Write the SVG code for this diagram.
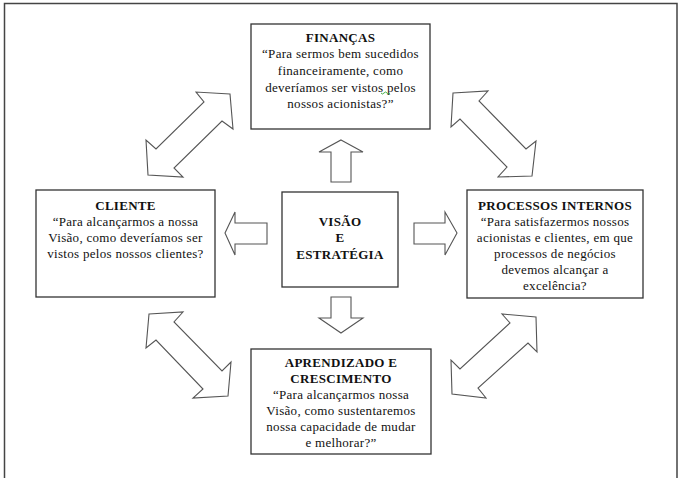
<svg xmlns="http://www.w3.org/2000/svg" width="680" height="478" viewBox="0 0 680 478">
<style>
.box{fill:#fff;stroke:#333;stroke-width:1.3}
.arr{fill:#fff;stroke:#555;stroke-width:1.1;stroke-linejoin:miter}
text{font-family:"Liberation Serif","Times New Roman",serif;font-size:13px;fill:#111;text-anchor:middle;letter-spacing:0.3px}
.t{font-weight:bold}
</style>
<rect width="680" height="478" fill="#fff"/>
<path d="M4.5 480 V3.5 H677 V480" fill="none" stroke="#444" stroke-width="1.5"/>
<g id="connectors">
<polygon class="arr" points="341,140 363,152 351,152 351,182 331,182 331,152 319,152"/>
<polygon class="arr" points="341,333 363,318 351,318 351,297 331,297 331,318 319,318"/>
<polygon class="arr" points="225,233 235,212 235,223 267,223 267,244 235,244 235,255"/>
<polygon class="arr" points="457,233 445,212 445,223 414,223 414,244 445,244 445,255"/>
<polygon class="arr" points="230,94 196,92 204,102 156,149 146,140 148,175 183,177 174,168 222,121 233,129"/>
<polygon class="arr" points="453,93 488,91 479,101 526,149 536,141 532,176 498,177 507,167 460,119 451,127"/>
<polygon class="arr" points="149,314 183,312 174,322 222,371 231,362 228,396 193,398 203,389 156,340 146,348"/>
<polygon class="arr" points="536,317 502,314 510,323 460,369 451,360 452,394 486,398 478,388 528,343 537,352"/>
</g>
<g id="financas">
<rect class="box" x="251" y="24" width="179" height="105"/>
<text class="t" x="340.5" y="42">FINANÇAS</text>
<text x="340.5" y="58">“Para sermos bem sucedidos</text>
<text x="340.5" y="75">financeiramente, como</text>
<text x="340.5" y="92">deveríamos ser vistos  pelos</text>
<text x="340.5" y="108">nossos acionistas?”</text>
<path d="M381 93 q1.5 2 3 0 t3 0 t3 0" fill="none" stroke="#3a3" stroke-width="0.9"/>
</g>
<g id="cliente">
<rect class="box" x="36" y="190" width="179" height="107"/>
<text class="t" x="125.5" y="210">CLIENTE</text>
<text x="125.5" y="226">“Para alcançarmos a nossa</text>
<text x="125.5" y="242">Visão, como deveríamos ser</text>
<text x="125.5" y="258">vistos pelos nossos clientes?</text>
</g>
<g id="visao">
<rect class="box" x="282" y="192" width="116" height="95"/>
<text class="t" x="340" y="226">VISÃO</text>
<text class="t" x="340" y="242">E</text>
<text class="t" x="340" y="259">ESTRATÉGIA</text>
</g>
<g id="processos">
<rect class="box" x="467" y="190" width="176" height="108"/>
<text class="t" x="555" y="210">PROCESSOS INTERNOS</text>
<text x="555" y="226">“Para satisfazermos nossos</text>
<text x="555" y="242">acionistas e clientes, em que</text>
<text x="555" y="258">processos de negócios</text>
<text x="555" y="274">devemos alcançar a</text>
<text x="555" y="290">excelência?</text>
</g>
<g id="aprendizado">
<rect class="box" x="251" y="349" width="180" height="105"/>
<text class="t" x="341" y="367">APRENDIZADO E</text>
<text class="t" x="341" y="383">CRESCIMENTO</text>
<text x="341" y="399">“Para alcançarmos nossa</text>
<text x="341" y="415">Visão, como sustentaremos</text>
<text x="341" y="431">nossa capacidade de mudar</text>
<text x="341" y="447">e melhorar?”</text>
</g>
</svg>
